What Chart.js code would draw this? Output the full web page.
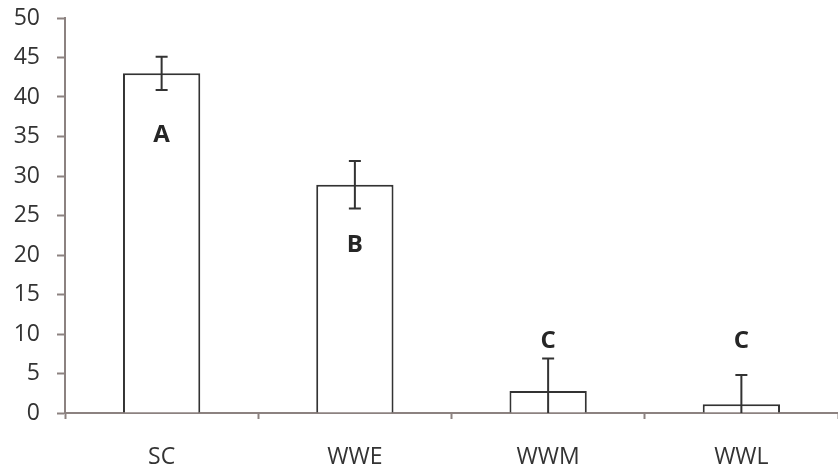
<!DOCTYPE html>
<html>
<head>
<meta charset="utf-8">
<script src="https://cdn.jsdelivr.net/npm/chart.js@4.4.1/dist/chart.umd.min.js"></script>
<style>
  html, body { margin: 0; padding: 0; background: #fff; }
  #wrap { width: 838px; height: 468px; position: relative; }
</style>
</head>
<body>
<div id="wrap"><canvas id="grafico"></canvas></div>
<script>
// dados do grafico
const categorias = ['SC', 'WWE', 'WWM', 'WWL'];
const valores = [43, 28.9, 2.8, 1.1];
const erros = [2.1, 3.0, 4.1, 3.7];
const letras = ['A', 'B', 'C', 'C'];
const posLetras = [35.2, 21.3, 9.15, 9.15]; // altura das letras no eixo y
const ticksY = [0, 5, 10, 15, 20, 25, 30, 35, 40, 45, 50];

const corEixo = '#8c8280';
const corTexto = '#333333';
const fonte = "'Open Sans', sans-serif";

// barras de erro e letras
const pluginErros = {
  id: 'pluginErros',
  afterDatasetsDraw(chart) {
    const ctx = chart.ctx;
    const meta = chart.getDatasetMeta(0);
    const y = chart.scales.y;
    const area = chart.chartArea;
    ctx.save();
    ctx.beginPath();
    ctx.rect(area.left, area.top - 10, area.right - area.left, area.bottom - area.top + 10);
    ctx.clip();
    ctx.strokeStyle = '#333333';
    ctx.lineWidth = 2;
    meta.data.forEach((bar, i) => {
      const x = bar.x;
      const topo = y.getPixelForValue(valores[i] + erros[i]);
      const base = y.getPixelForValue(valores[i] - erros[i]);
      ctx.beginPath();
      ctx.moveTo(x, topo);
      ctx.lineTo(x, base);
      ctx.moveTo(x - 6, topo);
      ctx.lineTo(x + 6, topo);
      ctx.moveTo(x - 6, base);
      ctx.lineTo(x + 6, base);
      ctx.stroke();
    });
    ctx.restore();

    ctx.save();
    ctx.fillStyle = '#262626';
    ctx.font = "bold 24px " + fonte;
    ctx.textAlign = 'center';
    ctx.textBaseline = 'middle';
    meta.data.forEach((bar, i) => {
      ctx.fillText(letras[i], bar.x, y.getPixelForValue(posLetras[i]));
    });
    ctx.restore();
  }
};

new Chart(document.getElementById('grafico'), {
  type: 'bar',
  data: {
    labels: categorias,
    datasets: [{
      data: valores,
      backgroundColor: '#ffffff',
      borderColor: '#333333',
      borderWidth: 2,
      categoryPercentage: 0.4,
      barPercentage: 1.0
    }]
  },
  options: {
    responsive: true,
    maintainAspectRatio: false,
    animation: false,
    layout: { padding: { top: 18, right: 0, left: 0, bottom: 0 } },
    plugins: { legend: { display: false }, tooltip: { enabled: false } },
    scales: {
      x: {
        offset: true,
        border: { color: corEixo, width: 2 },
        grid: { offset: true, drawOnChartArea: false, tickLength: 6, color: corEixo, tickColor: corEixo, tickWidth: 2 },
        ticks: { color: corTexto, font: { family: fonte, size: 23 }, padding: 25 },
        afterFit(scale) { scale.height = 55; scale.paddingLeft = 0; scale.paddingRight = 0; }
      },
      y: {
        min: 0,
        max: 50,
        border: { color: corEixo, width: 2 },
        grid: { drawOnChartArea: false, tickLength: 8, tickColor: corEixo, tickWidth: 2 },
        afterBuildTicks(scale) { scale.ticks = ticksY.map(v => ({ value: v })); },
        ticks: { color: corTexto, font: { family: fonte, size: 23 }, padding: 17 },
        afterFit(scale) { scale.width = 65; scale.paddingTop = 0; scale.paddingBottom = 0; }
      }
    }
  },
  plugins: [pluginErros]
});
</script>
</body>
</html>
